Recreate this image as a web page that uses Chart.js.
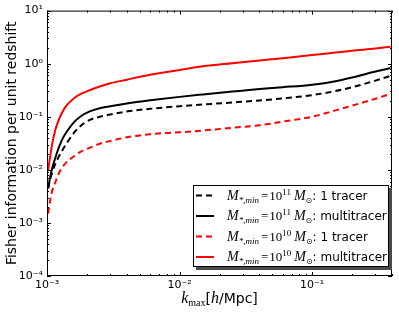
<!DOCTYPE html>
<html>
<head>
<meta charset="utf-8">
<script src="https://cdn.jsdelivr.net/npm/chart.js@4.4.1/dist/chart.umd.min.js"></script>
<style>
  html, body { margin: 0; padding: 0; background: #fff; }
  #chart { display: block; }
</style>
</head>
<body>
<canvas id="chart" width="399" height="315"></canvas>
<script>
// k_max grid (h/Mpc), shared by every curve
const kmax = [0.00102, 0.00106, 0.0011, 0.00115, 0.0012, 0.0013, 0.0014, 0.0016, 0.0018, 0.0021, 0.0025, 0.003,
              0.004, 0.006, 0.01, 0.015, 0.025, 0.04, 0.06, 0.1, 0.15, 0.2, 0.3, 0.39];

// Fisher information per unit redshift
const m11Single = [0.0045, 0.0068, 0.0093, 0.0126, 0.0158, 0.023, 0.031, 0.05, 0.068, 0.087, 0.1, 0.11,
                   0.126, 0.141, 0.158, 0.17, 0.186, 0.203, 0.222, 0.256, 0.305, 0.36, 0.48, 0.59];
const m11Multi  = [0.0045, 0.0076, 0.0112, 0.0162, 0.0224, 0.037, 0.051, 0.079, 0.102, 0.126, 0.145, 0.158,
                   0.178, 0.204, 0.237, 0.263, 0.298, 0.333, 0.36, 0.402, 0.468, 0.55, 0.71, 0.83];
const m10Single = [0.0015, 0.0028, 0.0042, 0.0056, 0.0076, 0.011, 0.0138, 0.018, 0.022, 0.026, 0.031, 0.035,
                   0.041, 0.047, 0.051, 0.055, 0.062, 0.069, 0.081, 0.1, 0.132, 0.162, 0.219, 0.27];
const m10Multi  = [0.01, 0.019, 0.033, 0.054, 0.076, 0.12, 0.162, 0.224, 0.269, 0.316, 0.372, 0.427,
                   0.5, 0.617, 0.76, 0.89, 1.02, 1.15, 1.27, 1.46, 1.62, 1.76, 1.93, 2.09];

// axis ticks
const xTicks = [1e-3, 1e-2, 1e-1];
const xTickLabels = ['10⁻³', '10⁻²', '10⁻¹'];
const yTicks = [1e-4, 1e-3, 1e-2, 1e-1, 1, 10];
const yTickLabels = ['10⁻⁴', '10⁻³', '10⁻²', '10⁻¹', '10⁰', '10¹'];

// legend text pieces
const legendExponents = ['11', '11', '10', '10'];
const legendSuffixes = ['1 tracer', 'multitracer', '1 tracer', 'multitracer'];

const series = [m11Single, m11Multi, m10Single, m10Multi];
const colors = ['#000000', '#000000', '#ff0000', '#ff0000'];
const dashes = [[6, 4], [], [6, 4], []];

const SERIF = '"Liberation Serif", "DejaVu Serif", serif';
const SANS = '"DejaVu Sans", sans-serif';

// draw a sequence of text pieces with their own font / offset, return end x
function drawRuns(ctx, x, y, runs, measureOnly) {
    runs.forEach(r => {
        x += r.dx || 0;
        ctx.font = r.font;
        if (!measureOnly) ctx.fillText(r.t, x, y + (r.dy || 0));
        x += ctx.measureText(r.t).width + (r.after || 0);
    });
    return x;
}

const decorPlugin = {
    id: 'decor',
    afterDraw(chart) {
        const ctx = chart.ctx;
        const { left, right, top, bottom } = chart.chartArea;
        const xs = chart.scales.x, ys = chart.scales.y;
        ctx.save();

        // frame
        ctx.strokeStyle = '#000';
        ctx.lineWidth = 1;
        ctx.strokeRect(left + 0.5, top + 0.5, right - left - 1, bottom - top - 1);

        // inward ticks on all four sides
        ctx.beginPath();
        for (let d = -3; d <= -1; d++) {
            for (let m = 1; m <= 9; m++) {
                const v = m * Math.pow(10, d);
                if (v > xs.max) continue;
                const px = Math.round(xs.getPixelForValue(v)) + 0.5;
                const len = m === 1 ? 4 : 2;
                ctx.moveTo(px, bottom); ctx.lineTo(px, bottom - len);
                ctx.moveTo(px, top); ctx.lineTo(px, top + len);
            }
        }
        for (let d = -4; d <= 1; d++) {
            for (let m = 1; m <= 9; m++) {
                const v = m * Math.pow(10, d);
                if (v > ys.max) continue;
                const py = Math.round(ys.getPixelForValue(v)) + 0.5;
                const len = m === 1 ? 4 : 2;
                ctx.moveTo(left, py); ctx.lineTo(left + len, py);
                ctx.moveTo(right, py); ctx.lineTo(right - len, py);
            }
        }
        ctx.stroke();

        // x axis title: k_max[h/Mpc]
        ctx.fillStyle = '#000';
        ctx.textBaseline = 'alphabetic';
        ctx.textAlign = 'left';
        const titleRuns = [
            { t: 'k', font: 'italic 16px ' + SERIF },
            { t: 'max', font: '10px ' + SERIF, dy: 3 },
            { t: '[', font: '14px ' + SANS },
            { t: 'h', font: 'italic 16px ' + SERIF },
            { t: '/Mpc]', font: '14px ' + SANS }
        ];
        const tw = drawRuns(ctx, 0, 0, titleRuns, true);
        drawRuns(ctx, (left + right) / 2 - tw / 2, 303, titleRuns);

        // legend box with shadow
        const bx = 193, by = 185, bw = 196, bh = 82;
        ctx.fillStyle = '#4a4a4a';
        ctx.fillRect(bx + 3, by + 3, bw, bh);
        ctx.fillStyle = '#fff';
        ctx.fillRect(bx, by, bw, bh);
        ctx.strokeStyle = '#000';
        ctx.strokeRect(bx + 0.5, by + 0.5, bw - 1, bh - 1);

        for (let i = 0; i < 4; i++) {
            const cy = 195.5 + i * 20.5;
            ctx.beginPath();
            ctx.strokeStyle = colors[i];
            ctx.lineWidth = 2;
            ctx.setLineDash(dashes[i]);
            ctx.moveTo(196, cy); ctx.lineTo(214, cy);
            ctx.stroke();
            ctx.setLineDash([]);

            ctx.fillStyle = '#000';
            drawRuns(ctx, 227, cy + 4, [
                { t: 'M', font: 'italic 14px ' + SERIF },
                { t: '*,min', font: 'italic 9px ' + SERIF, dy: 3 },
                { t: '=', font: '13px ' + SERIF, dx: 2, after: 1 },
                { t: '10', font: '13px ' + SERIF },
                { t: legendExponents[i], font: '9px ' + SERIF, dy: -5 },
                { t: 'M', font: 'italic 14px ' + SERIF, dx: 3 },
                { t: '⊙', font: '8px ' + SANS, dy: 3 },
                { t: ': ' + legendSuffixes[i], font: '12px ' + SANS }
            ]);
        }
        ctx.restore();
    }
};

const datasets = series.map((vals, i) => ({
    data: kmax.map((k, j) => ({ x: k, y: vals[j] })),
    borderColor: colors[i],
    borderWidth: 2,
    borderDash: dashes[i],
    pointRadius: 0,
    cubicInterpolationMode: 'monotone',
    fill: false
}));

new Chart(document.getElementById('chart'), {
    type: 'line',
    data: { datasets: datasets },
    plugins: [decorPlugin],
    options: {
        responsive: false,
        animation: false,
        devicePixelRatio: 1,
        layout: { padding: { left: 0, top: 10, right: 7, bottom: 0 } },
        plugins: { legend: { display: false }, tooltip: { enabled: false } },
        scales: {
            x: {
                type: 'logarithmic',
                min: 0.001,
                max: 0.4,
                grid: { display: false, drawTicks: false },
                border: { display: false },
                ticks: {
                    color: '#000',
                    font: { family: 'DejaVu Sans', size: 11 },
                    padding: 3,
                    maxRotation: 0,
                    autoSkip: false,
                    callback: (v) => xTickLabels[xTicks.indexOf(v)]
                },
                afterBuildTicks: s => { s.ticks = xTicks.map(v => ({ value: v })); },
                afterFit: s => { s.height = 39; }
            },
            y: {
                type: 'logarithmic',
                min: 1e-4,
                max: 10,
                grid: { display: false, drawTicks: false },
                border: { display: false },
                title: {
                    display: true,
                    text: 'Fisher information per unit redshift',
                    color: '#000',
                    font: { family: 'DejaVu Sans', size: 14 },
                    padding: { top: 4, bottom: 4 }
                },
                ticks: {
                    color: '#000',
                    font: { family: 'DejaVu Sans', size: 11 },
                    padding: 4,
                    autoSkip: false,
                    callback: (v) => yTickLabels[yTicks.indexOf(v)]
                },
                afterBuildTicks: s => { s.ticks = yTicks.map(v => ({ value: v })); },
                afterFit: s => { s.width = 47; }
            }
        }
    }
});
</script>
</body>
</html>
